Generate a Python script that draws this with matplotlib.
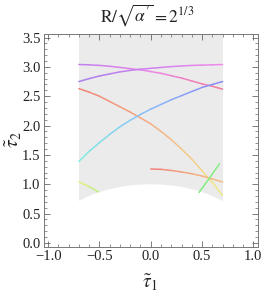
import numpy as np
import matplotlib
matplotlib.use("Agg")
import matplotlib.pyplot as plt
from matplotlib.collections import LineCollection
from matplotlib.colors import LinearSegmentedColormap
from matplotlib.patches import Rectangle, Ellipse
from matplotlib.ticker import MultipleLocator, FuncFormatter

plt.rcParams['mathtext.fontset'] = 'stix'
plt.rcParams['font.family'] = ['Liberation Serif', 'DejaVu Serif']

# ---- data ----
c1_x = [-0.70, -0.60, -0.50, -0.40, -0.30, -0.20, -0.10, 0.00, 0.10, 0.20, 0.30, 0.40, 0.50, 0.60, 0.70]
c1_y = [3.04, 3.035, 3.025, 3.01, 2.99, 2.97, 2.95, 2.92, 2.89, 2.85, 2.81, 2.76, 2.71, 2.67, 2.62]

c2_x = [-0.70, -0.60, -0.50, -0.40, -0.30, -0.20, -0.10, 0.00, 0.10, 0.20, 0.30, 0.40, 0.50, 0.60, 0.70]
c2_y = [2.75, 2.80, 2.845, 2.88, 2.915, 2.94, 2.96, 2.975, 2.99, 3.005, 3.015, 3.025, 3.03, 3.035, 3.04]

c3_x = [-0.70, -0.60, -0.50, -0.40, -0.30, -0.20, -0.10, 0.00, 0.10, 0.20, 0.30, 0.40, 0.50, 0.60, 0.70]
c3_y = [2.63, 2.57, 2.50, 2.41, 2.32, 2.23, 2.13, 2.03, 1.90, 1.76, 1.60, 1.43, 1.23, 1.03, 0.81]

c4_x = [-0.70, -0.60, -0.50, -0.40, -0.30, -0.20, -0.10, 0.00, 0.10, 0.20, 0.30, 0.40, 0.50, 0.60, 0.70]
c4_y = [1.39, 1.56, 1.71, 1.85, 1.98, 2.09, 2.19, 2.28, 2.36, 2.44, 2.51, 2.58, 2.65, 2.70, 2.75]

c5_x = [0.00, 0.10, 0.20, 0.30, 0.40, 0.50, 0.60, 0.70]
c5_y = [1.26, 1.255, 1.235, 1.21, 1.18, 1.14, 1.09, 1.04]

c6_x = [0.47, 0.57, 0.67]
c6_y = [0.86, 1.10, 1.35]

c7_x = [-0.70, -0.60, -0.51]
c7_y = [1.04, 0.96, 0.87]

domain_x = [-0.70, 0.70]
circle_r = 1.0

x_ticks = [-1.0, -0.5, 0.0, 0.5, 1.0]
y_ticks = [0.0, 0.5, 1.0, 1.5, 2.0, 2.5, 3.0, 3.5]

# ---- styles ----
curves = [
    (c1_x, c1_y, ['#c080f0', '#ee84e8', '#f07c98']),
    (c2_x, c2_y, ['#a880f0', '#d080f0', '#f08cec']),
    (c3_x, c3_y, ['#f08476', '#f4b888', '#f0ec88']),
    (c4_x, c4_y, ['#80f0dc', '#88c4f8', '#8a86f6']),
    (c5_x, c5_y, ['#f07c7c', '#f4a880', '#f4c080']),
    (c6_x, c6_y, ['#80ee80', '#84f084']),
    (c7_x, c7_y, ['#eef080', '#b4f07c']),
]

fig = plt.figure(figsize=(2.66, 3.0), dpi=100)
ax = fig.add_axes([44/266, 1-246.5/300, (257.5-44)/266, (246.5-34)/300])
ax.set_xlim(-1.04, 1.04)
ax.set_ylim(-0.06, 3.56)

# fundamental domain shading
ax.add_patch(Rectangle((domain_x[0], -1), domain_x[1]-domain_x[0], 6,
                       facecolor='#ebebeb', edgecolor='none', zorder=0))
ax.add_patch(Ellipse((0, 0), 2*circle_r, 2*circle_r, facecolor='white',
                     edgecolor='none', zorder=0.5))

for xs, ys, cols in curves:
    pts = np.column_stack([xs, ys])
    segs = np.stack([pts[:-1], pts[1:]], axis=1)
    d = np.hypot(np.diff(pts[:, 0]), np.diff(pts[:, 1]))
    s = np.concatenate([[0], np.cumsum(d)])
    mid = (s[:-1] + s[1:]) / 2 / s[-1]
    cmap = LinearSegmentedColormap.from_list('c', cols)
    lc = LineCollection(segs, colors=cmap(mid), linewidths=1.1,
                        capstyle='round', joinstyle='round', zorder=2)
    ax.add_collection(lc)

def fmt(v, pos):
    s = '%.1f' % abs(v)
    return ('\u2212' + s) if v < -1e-9 else s

ax.set_xticks(x_ticks)
ax.set_yticks(y_ticks)
ax.xaxis.set_minor_locator(MultipleLocator(0.1))
ax.yaxis.set_minor_locator(MultipleLocator(0.1))
ax.xaxis.set_major_formatter(FuncFormatter(fmt))
ax.yaxis.set_major_formatter(FuncFormatter(fmt))
ax.tick_params(which='both', direction='in', top=True, right=True,
               color='#666666', labelsize=10.5, labelcolor='#222222')
ax.tick_params(which='major', length=4, width=0.6, pad=2.5)
ax.tick_params(which='minor', length=2, width=0.5)
for sp in ax.spines.values():
    sp.set_color('#777777')
    sp.set_linewidth(0.7)

fig.text(147/266, 1-15/300, r"$\mathrm{R}/\sqrt{\alpha^{\prime}}=2^{1/3}$",
         ha='center', va='center', fontsize=12.5, color='#222222')
fig.text(150/266, 1-283/300, r"$\tilde{\tau}_1$", ha='center', va='center',
         fontsize=14, color='#222222')
fig.text(14/266, 1-140/300, r"$\tilde{\tau}_2$", ha='center', va='center',
         fontsize=14, rotation=90, color='#222222')

fig.savefig('out.png', dpi=100)
